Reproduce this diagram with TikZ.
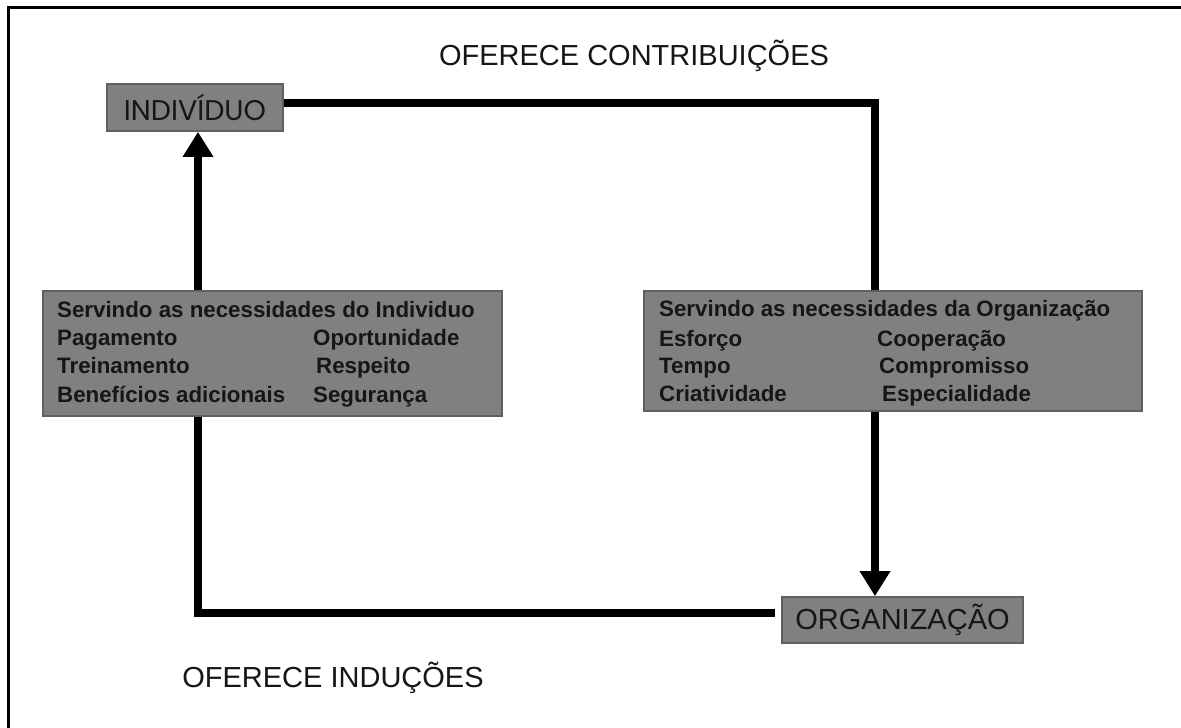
\documentclass[tikz,border=0pt]{standalone}
\usepackage{fontspec}
\setmainfont{Liberation Sans}
\newfontfamily\geofont{Poppins}
\usetikzlibrary{arrows.meta}
\definecolor{boxfill}{RGB}{128,128,128}
\definecolor{boxline}{RGB}{96,96,96}
\definecolor{ink}{RGB}{22,22,22}
\tikzset{
  graybox/.style={draw=boxline, line width=1.6pt, fill=boxfill, inner sep=0pt},
  itemtxt/.style={anchor=base west, inner sep=0pt, text=ink, font=\bfseries\fontsize{22.3}{24}\selectfont},
  caption/.style={inner sep=0pt, text=ink, font=\fontsize{29}{31}\selectfont},
  flow/.style={line width=8pt, black},
  flowarrow/.style={flow, -{Triangle[length=25pt,width=29pt]}},
  frameline/.style={line width=2.6pt, black}
}
\begin{document}
\begin{tikzpicture}[x=1pt, y=-1pt]
  \useasboundingbox (0,0) rectangle (1181,728);
  \fill[white] (0,0) rectangle (1181,728);

  % outer frame (top and left edges)
  \draw[frameline] (8.5,728) -- (8.5,7.5) -- (1181,7.5);

  % captions
  \node[caption] (contrib) at (634,56) {OFERECE CONTRIBUIÇÕES};
  \node[caption] (inducoes) at (333,678) {OFERECE INDUÇÕES};

  % the two parties
  \node[graybox, minimum width=176pt, minimum height=47pt] (ind) at (195,107.5)
    {\geofont\fontsize{28.5}{30}\selectfont\color{ink}INDIVÍDUO};
  \node[graybox, minimum width=241pt, minimum height=46pt] (org) at (902.5,620)
    {\fontsize{29}{31}\selectfont\color{ink}ORGANIZAÇÃO};

  % needs of the individual
  \node[graybox, minimum width=459pt, minimum height=125pt] (lbox) at (272.5,353.5) {};
  \node[itemtxt] (l0) at (57,317) {Servindo as necessidades do Individuo};
  \node[itemtxt] (l1) at (57,345) {Pagamento};
  \node[itemtxt] (l2) at (57,373) {Treinamento};
  \node[itemtxt] (l3) at (57,402) {Benefícios adicionais};
  \node[itemtxt] (l4) at (313,345) {Oportunidade};
  \node[itemtxt] (l5) at (316,373) {Respeito};
  \node[itemtxt] (l6) at (313,402) {Segurança};

  % needs of the organisation
  \node[graybox, minimum width=498pt, minimum height=120pt] (rbox) at (893,351) {};
  \node[itemtxt] (r0) at (659,316) {Servindo as necessidades da Organização};
  \node[itemtxt] (r1) at (659,346) {Esforço};
  \node[itemtxt] (r2) at (659,373) {Tempo};
  \node[itemtxt] (r3) at (659,401) {Criatividade};
  \node[itemtxt] (r4) at (877,346) {Cooperação};
  \node[itemtxt] (r5) at (879,373) {Compromisso};
  \node[itemtxt] (r6) at (882,401) {Especialidade};

  % routing corners
  \coordinate (c1) at (875,102.5);
  \coordinate (c2) at (198,613);
  \coordinate (c3) at (775,613);

  % contributions: individual -> organisation
  \draw[flow, line join=miter] (ind.east |- c1) -- (c1) -- (c1 |- rbox.north);
  \draw[flowarrow] (c1 |- rbox.south) -- (c1 |- org.north);

  % inducements: organisation -> individual
  \draw[flow, line join=miter] (c3) -- (c2) -- (c2 |- lbox.south);
  \draw[flowarrow] (c2 |- lbox.north) -- (c2 |- ind.south);
\end{tikzpicture}
\end{document}
